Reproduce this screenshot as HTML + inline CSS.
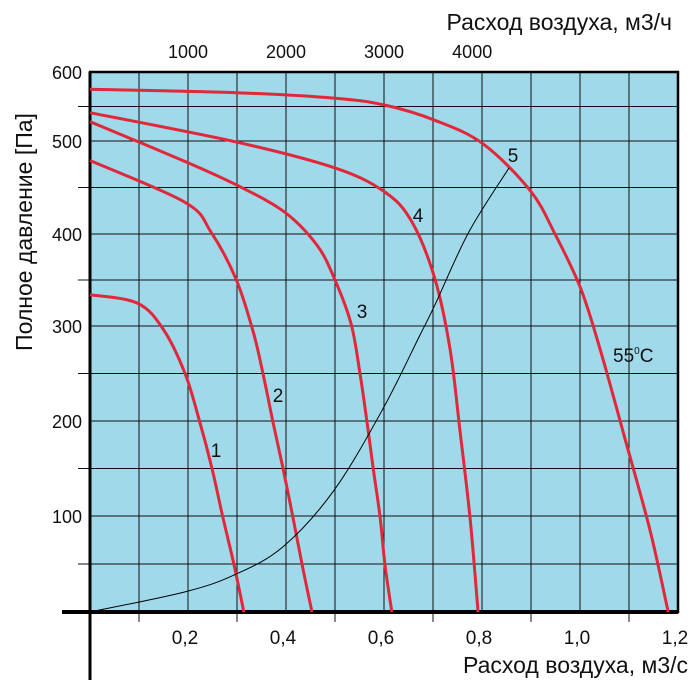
<!DOCTYPE html>
<html><head><meta charset="utf-8"><style>
body{margin:0;background:#fff;width:700px;height:700px;overflow:hidden}
svg{display:block;font-family:"Liberation Sans",sans-serif}
</style></head><body>
<svg id="chart" width="700" height="700"></svg>
<script>
const xTicks=[0.2,0.4,0.6,0.8,1.0,1.2];
const xTickLabels=["0,2","0,4","0,6","0,8","1,0","1,2"];
const yTicks=[100,200,300,400,500,600];
const topLabels=["1000","2000","3000","4000"];
const topLabelPos=[0.2,0.4,0.6,0.78];
const c1x=[0,0.096,0.149,0.194,0.224,0.249,0.271,0.294,0.314];
const c1y=[334,325,297,250,199,150,99,49,0];
const c2x=[0,0.194,0.247,0.298,0.333,0.353,0.373,0.394,0.414,0.433,0.453];
const c2y=[479,434,402,351,294,250,200,150,99,49,0];
const c3x=[0,0.194,0.298,0.396,0.463,0.5,0.533,0.551,0.565,0.578,0.592,0.602,0.616];
const c3y=[528,478,453,424,388,350,302,250,200,150,99,49,0];
const c4x=[0,0.298,0.5,0.602,0.657,0.704,0.735,0.755,0.776,0.792];
const c4y=[541,499,471,445,413,351,275,190,96,0];
const c5x=[0,0.298,0.5,0.602,0.704,0.802,0.898,0.949,1.002,1.043,1.092,1.143,1.18];
const c5y=[575,570,562,552,530,497,447,400,340,272,181,85,0];
const sysx=[0,0.194,0.296,0.394,0.498,0.598,0.673,0.704,0.773,0.855];
const sysy=[0,21,39,68,127,213,290,323,402,471];

const L=90,R=678,T=72,B=612;
const yVals=[0,100,200,300,400,500,600], yPix=[612,516,421,326,234,141,72];
function X(v){return L+v/1.2*(R-L);}
function Y(v){for(let i=0;i<yVals.length-1;i++){if(v<=yVals[i+1]){const t=(v-yVals[i])/(yVals[i+1]-yVals[i]);return yPix[i]+t*(yPix[i+1]-yPix[i]);}}return yPix[yPix.length-1];}
const NS="http://www.w3.org/2000/svg";const svg=document.getElementById('chart');
function el(t,a,p){const e=document.createElementNS(NS,t);for(const k in a)e.setAttribute(k,a[k]);(p||svg).appendChild(e);return e;}
let e=el('rect',{x:L,y:T,width:R-L,height:B-T,fill:'#a0d9ea'});


for(let i=1;i<12;i++){const x=X(i*0.1);e=el('line',{x1:x,y1:T,x2:x,y2:B+(i%2?10:0),stroke:'#111','stroke-width':1});

}
for(let v=50;v<=550;v+=50){const y=Y(v);e=el('line',{x1:L-(v%100?12:0),y1:y,x2:R,y2:y,stroke:'#111','stroke-width':1});

}
e=el('rect',{x:L,y:T,width:R-L,height:B-T,fill:'none',stroke:'#000','stroke-width':2.5});


e=el('line',{x1:62,y1:B,x2:R,y2:B,stroke:'#000','stroke-width':4});


e=el('line',{x1:L,y1:T,x2:L,y2:680,stroke:'#000','stroke-width':3});


xTicks.forEach((v,i)=>{e=el('text',{x:X(v)-3,y:644,'font-size':19,'text-anchor':'middle',fill:'#111'});e.textContent=xTickLabels[i];

});
yTicks.forEach(v=>{e=el('text',{x:82,y:Y(v)+7,'font-size':18,'text-anchor':'end',fill:'#111'});e.textContent=String(v);

});
topLabels.forEach((s,i)=>{e=el('text',{x:X(topLabelPos[i]),y:58,'font-size':18,'text-anchor':'middle',fill:'#111'});e.textContent=s;

});
e=el('text',{x:672,y:30,'font-size':23,'text-anchor':'end',fill:'#111'});e.textContent='Расход воздуха, м3/ч';


e=el('text',{x:688,y:673,'font-size':23,'text-anchor':'end',fill:'#111'});e.textContent='Расход воздуха, м3/с';


e=el('text',{x:0,y:0,'font-size':23,'text-anchor':'middle',fill:'#111',transform:'translate(32,232) rotate(-90)'});e.textContent='Полное давление [Па]';


function smooth(xs,ys){const p=xs.map((x,i)=>[X(x),Y(ys[i])]);let d='M'+p[0][0]+','+p[0][1];
for(let i=0;i<p.length-1;i++){const p0=p[i-1]||p[i],p1=p[i],p2=p[i+1],p3=p[i+2]||p2;
d+=' C'+(p1[0]+(p2[0]-p0[0])/6)+','+(p1[1]+(p2[1]-p0[1])/6)+' '+(p2[0]-(p3[0]-p1[0])/6)+','+(p2[1]-(p3[1]-p1[1])/6)+' '+p2[0]+','+p2[1];}return d;}
const curves=[[c1x,c1y,'curve-1'],[c2x,c2y,'curve-2'],[c3x,c3y,'curve-3'],[c4x,c4y,'curve-4'],[c5x,c5y,'curve-5-55c']];
curves.forEach(c=>{e=el('path',{d:smooth(c[0],c[1]),fill:'none',stroke:'#e0283a','stroke-width':3});

});
e=el('path',{d:smooth(sysx,sysy),fill:'none',stroke:'#000','stroke-width':1});


const labs=[['1',216,457],['2',278,402],['3',362,318],['4',418,222],['5',513,162]];
labs.forEach(l=>{e=el('text',{x:l[1],y:l[2],'font-size':19,'text-anchor':'middle',fill:'#111'});e.textContent=l[0];

});
e=el('text',{x:613,y:362,'font-size':19,fill:'#111'});e.innerHTML='55<tspan font-size="10" dy="-8">0</tspan><tspan dy="8">C</tspan>';


</script>
</body></html>
